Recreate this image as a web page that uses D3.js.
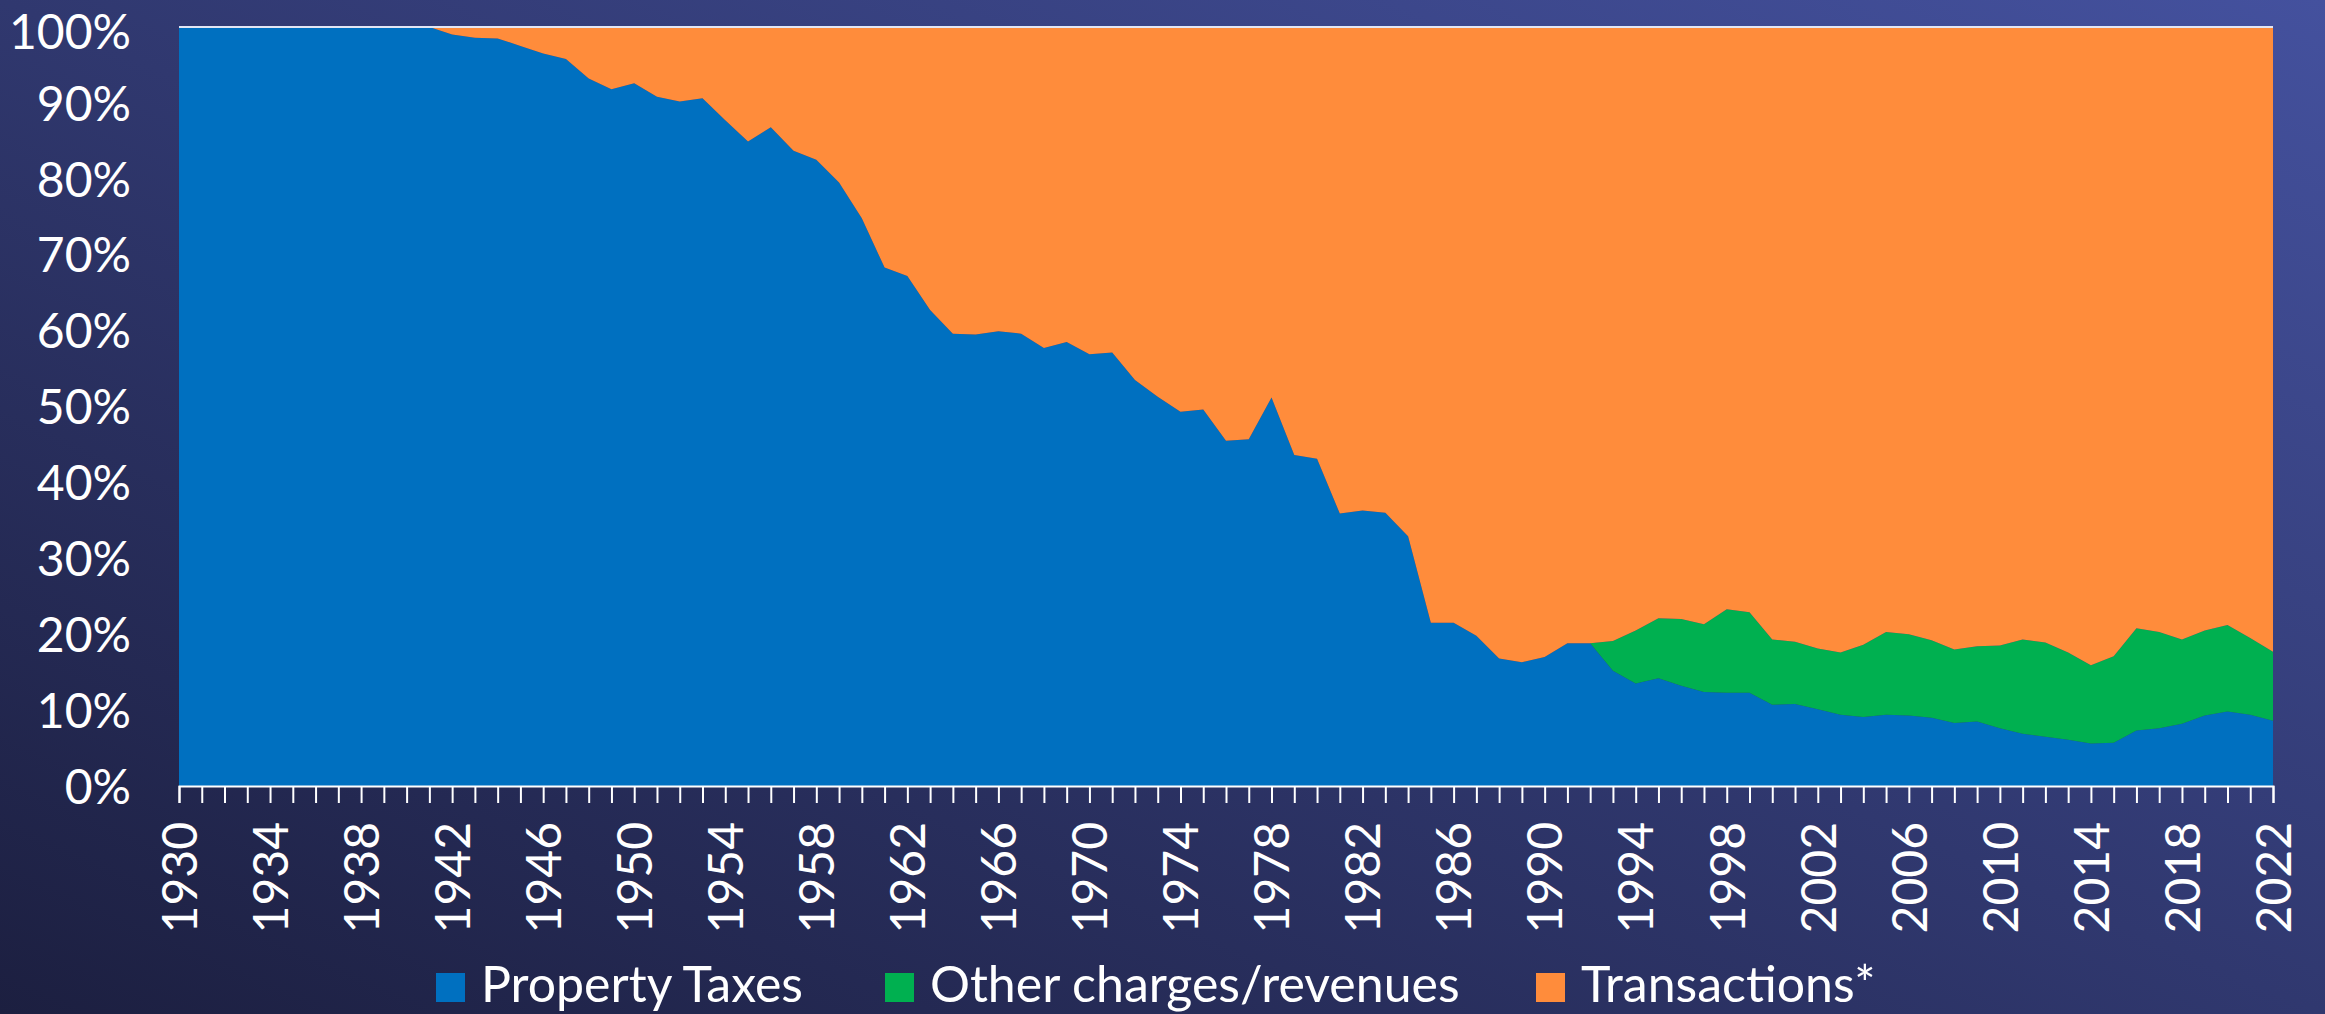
<!DOCTYPE html>
<html>
<head>
<meta charset="utf-8">
<script src="https://cdn.jsdelivr.net/npm/d3@7"></script>
<style>
  body { margin: 0; overflow: hidden; background: #262a52; }
  text { font-family: Lato, "Open Sans", sans-serif; fill: #ffffff; }
</style>
</head>
<body>
<div id="chart"></div>
<script>
// share of revenue by source, 1930-2022 (percent)
const years = d3.range(1930, 2023);

const propertyTaxes = [
  100, 100, 100, 100, 100, 100, 100, 100, 100, 100, 100, 100,      // 1930-1941
  99.0, 98.6, 98.5, 97.5, 96.5, 95.8, 93.2, 91.8,                  // 1942-1949
  92.6, 90.8, 90.2, 90.6, 87.7, 84.9, 86.8, 83.7, 82.5, 79.5,      // 1950s
  74.8, 68.3, 67.2, 62.7, 59.6, 59.5, 59.9, 59.6, 57.7, 58.5,      // 1960s
  56.9, 57.1, 53.5, 51.3, 49.3, 49.6, 45.5, 45.7, 51.2, 43.6,      // 1970s
  43.1, 35.9, 36.3, 36.0, 32.9, 21.5, 21.5, 19.8, 16.8, 16.3,      // 1980s
  17.0, 18.8, 18.8, 15.2, 13.5, 14.2, 13.2, 12.4, 12.3, 12.3,      // 1990s
  10.7, 10.8, 10.1, 9.4, 9.1, 9.4, 9.3, 9.0, 8.3, 8.5,             // 2000s
  7.6, 6.9, 6.5, 6.1, 5.6, 5.7, 7.3, 7.6, 8.2, 9.3,                // 2010s
  9.8, 9.4, 8.6                                                    // 2020-2022
];

const otherCharges = [
  0, 0, 0, 0, 0, 0, 0, 0, 0, 0, 0, 0,
  0, 0, 0, 0, 0, 0, 0, 0,
  0, 0, 0, 0, 0, 0, 0, 0, 0, 0,
  0, 0, 0, 0, 0, 0, 0, 0, 0, 0,
  0, 0, 0, 0, 0, 0, 0, 0, 0, 0,
  0, 0, 0, 0, 0, 0, 0, 0, 0, 0,
  0, 0, 0, 3.9, 7.0, 7.9, 8.8, 8.9, 11.0, 10.6,
  8.6, 8.2, 8.0, 8.2, 9.5, 10.9, 10.7, 10.2, 9.7, 9.9,
  10.9, 12.4, 12.4, 11.5, 10.3, 11.4, 13.5, 12.7, 11.1, 11.2,
  11.4, 10.1, 9.1
];

const transactions = [
  0, 0, 0, 0, 0, 0, 0, 0, 0, 0, 0, 0,
  1.0, 1.4, 1.5, 2.5, 3.5, 4.2, 6.8, 8.2,
  7.4, 9.2, 9.8, 9.4, 12.3, 15.1, 13.2, 16.3, 17.5, 20.5,
  25.2, 31.7, 32.8, 37.3, 40.4, 40.5, 40.1, 40.4, 42.3, 41.5,
  43.1, 42.9, 46.5, 48.7, 50.7, 50.4, 54.5, 54.3, 48.8, 56.4,
  56.9, 64.1, 63.7, 64.0, 67.1, 78.5, 78.5, 80.2, 83.2, 83.7,
  83.0, 81.2, 81.2, 80.9, 79.5, 77.9, 78.0, 78.7, 76.7, 77.1,
  80.7, 81.0, 81.9, 82.4, 81.4, 79.7, 80.0, 80.8, 82.0, 81.6,
  81.5, 80.7, 81.1, 82.4, 84.1, 82.9, 79.2, 79.7, 80.7, 79.5,
  78.8, 80.5, 82.3
];

const seriesNames = ["Property Taxes", "Other charges/revenues", "Transactions*"];
const seriesColors = ["#0070c0", "#00b050", "#ff8c3b"];
const yTicks = [0, 10, 20, 30, 40, 50, 60, 70, 80, 90, 100];
const xTickLabels = d3.range(1930, 2023, 4);

const width = 2325, height = 1014;
const margin = { top: 27, right: 52, bottom: 228, left: 179 };

const svg = d3.select("#chart").append("svg")
  .attr("width", width)
  .attr("height", height);

// background gradient, dark bottom-left to lighter top-right
const grad = svg.append("defs").append("linearGradient")
  .attr("id", "bg")
  .attr("x1", 0).attr("y1", 1).attr("x2", 1).attr("y2", 0);
grad.append("stop").attr("offset", "0%").attr("stop-color", "#1c1f40");
grad.append("stop").attr("offset", "100%").attr("stop-color", "#44519e");

svg.append("rect")
  .attr("width", width)
  .attr("height", height)
  .attr("fill", "url(#bg)");

const x = d3.scaleLinear()
  .domain([1930, 2022])
  .range([margin.left, width - margin.right]);

const y = d3.scaleLinear()
  .domain([0, 100])
  .range([height - margin.bottom, margin.top]);

// table for the stack layout
const rows = years.map((yr, i) => ({
  year: yr,
  "Property Taxes": propertyTaxes[i],
  "Other charges/revenues": otherCharges[i],
  "Transactions*": transactions[i]
}));

const stacked = d3.stack().keys(seriesNames)(rows);

const area = d3.area()
  .x(d => x(d.data.year))
  .y0(d => y(d[0]))
  .y1(d => y(d[1]));

svg.append("g")
  .selectAll("path")
  .data(stacked)
  .join("path")
  .attr("d", area)
  .attr("fill", (d, i) => seriesColors[i]);

// thin light line along the 100% mark
svg.append("line")
  .attr("x1", x(1930)).attr("x2", x(2022))
  .attr("y1", y(100)).attr("y2", y(100))
  .attr("stroke", "#e2e6f4")
  .attr("stroke-width", 2);

// y axis
const yAxis = svg.append("g")
  .attr("transform", "translate(" + margin.left + ",0)")
  .call(d3.axisLeft(y).tickValues(yTicks).tickSize(0).tickPadding(48).tickFormat(d => d + "%"));
yAxis.select(".domain").remove();
yAxis.selectAll("text")
  .style("font-size", "48px")
  .attr("dy", d => d === 100 ? "0.44em" : "0.36em"); // top label sits against the edge

// x axis, a tick every year, label every 4 years
const xAxis = svg.append("g")
  .attr("transform", "translate(0," + y(0) + ")")
  .call(d3.axisBottom(x)
    .tickValues(years)
    .tickSize(17)
    .tickFormat(d => xTickLabels.includes(d) ? String(d) : ""));
xAxis.select(".domain")
  .attr("stroke", "#ffffff")
  .attr("stroke-width", 2);
xAxis.selectAll(".tick line")
  .attr("stroke", "#ffffff")
  .attr("stroke-width", 2);
xAxis.selectAll("text")
  .style("font-size", "48px")
  .attr("text-anchor", "end")
  .attr("transform", "rotate(-90)")
  .attr("x", -36)
  .attr("y", 0)
  .attr("dy", "0.36em");

// legend
const legendX = [436, 885, 1536];
const legend = svg.append("g");
seriesNames.forEach((name, i) => {
  legend.append("rect")
    .attr("x", legendX[i])
    .attr("y", 973)
    .attr("width", 29)
    .attr("height", 29)
    .attr("fill", seriesColors[i]);
  legend.append("text")
    .attr("x", legendX[i] + 45)
    .attr("y", 1002)
    .style("font-size", "50px")
    .text(name);
});
</script>
</body>
</html>
